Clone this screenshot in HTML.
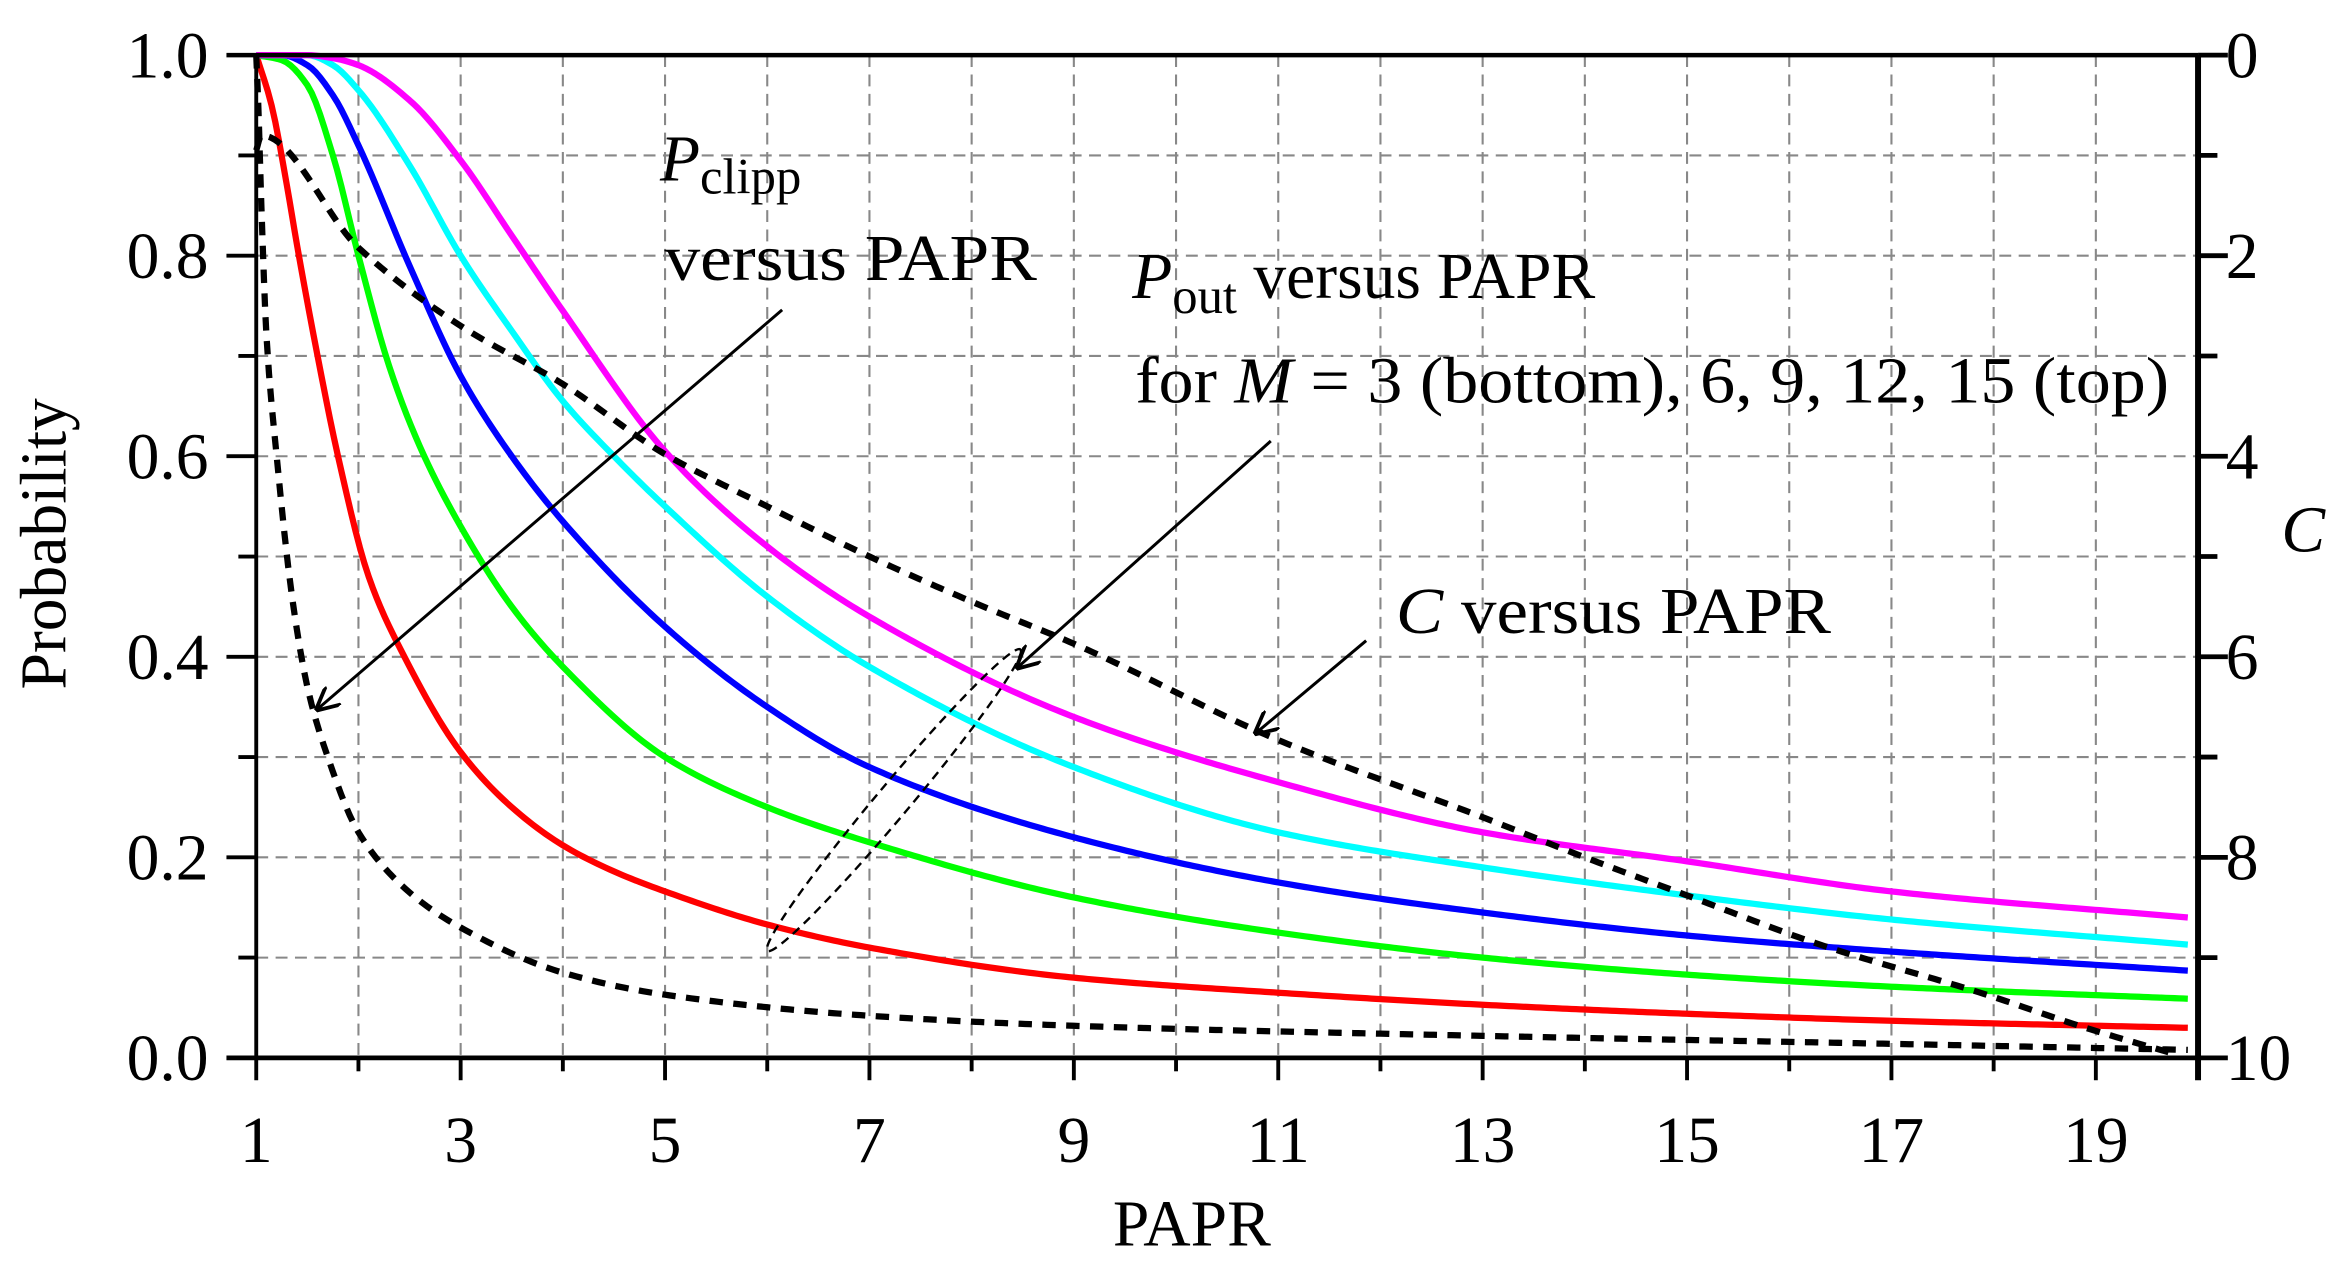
<!DOCTYPE html>
<html><head><meta charset="utf-8"><style>
html,body{margin:0;padding:0;background:#fff;}
svg{display:block;}
text{font-family:"Liberation Serif",serif;fill:#000;}
</style></head><body>
<svg id="chart" width="2336" height="1265" viewBox="0 0 1568 849" preserveAspectRatio="none" xmlns="http://www.w3.org/2000/svg">
<defs><marker id="ah" viewBox="0 0 10 10" refX="9" refY="5" markerWidth="16" markerHeight="16" markerUnits="userSpaceOnUse" orient="auto"><path d="M0,0 L10,5 L0,10" fill="none" stroke="#000" stroke-width="1.6"/></marker></defs>
<g id="grid"></g>
<g id="curves"></g>
<g id="axes"></g>
<g>
<text x="443" y="121" font-size="44"><tspan font-style="italic">P</tspan><tspan font-size="34" dy="9">clipp</tspan></text>
<text x="446" y="188" font-size="44" textLength="250" lengthAdjust="spacingAndGlyphs">versus PAPR</text>
<line x1="525" y1="208" x2="213" y2="476" stroke="#000" stroke-width="2" marker-end="url(#ah)"/>
<text x="760" y="200" font-size="44"><tspan font-style="italic">P</tspan><tspan font-size="34" dy="10">out</tspan><tspan dy="-10"> versus PAPR</tspan></text>
<text x="762" y="270" font-size="44" textLength="694" lengthAdjust="spacingAndGlyphs">for <tspan font-style="italic">M</tspan> = 3 (bottom), 6, 9, 12, 15 (top)</text>
<line x1="853" y1="296" x2="683" y2="448" stroke="#000" stroke-width="2" marker-end="url(#ah)"/>
<ellipse cx="600" cy="537" rx="132" ry="11" transform="rotate(-50 600 537)" fill="none" stroke="#000" stroke-width="1.6" stroke-dasharray="6,4"/>
<text x="937" y="425" font-size="44" textLength="292" lengthAdjust="spacingAndGlyphs"><tspan font-style="italic">C</tspan> versus PAPR</text>
<line x1="917" y1="430" x2="843" y2="492" stroke="#000" stroke-width="2" marker-end="url(#ah)"/>
<text x="800" y="836" font-size="44" text-anchor="middle">PAPR</text>
<text x="0" y="0" font-size="44" text-anchor="middle" transform="translate(44 365) rotate(-90)">Probability</text>
<text x="1546" y="370" font-size="44" font-style="italic" text-anchor="middle">C</text>
</g>
</svg>
<script>
const xTicks=[1,3,5,7,9,11,13,15,17,19];
const yTicks=["0.0","0.2","0.4","0.6","0.8","1.0"];
const cTicks=["0","2","4","6","8","10"];
const tailX=[9,11,13,15,17,19.9];
const m3X=[1,1.15,1.3,1.4,1.6,1.8,2.1,2.45,3,3.5,4,4.5,5,6,7].concat(tailX);
const m3Y=[1,0.95,0.87,0.81,0.70,0.60,0.48,0.40,0.305,0.25,0.212,0.186,0.166,0.133,0.11,0.08,0.065,0.053,0.044,0.037,0.03];
const m6X=[1,1.25,1.5,1.75,2,2.3,2.6,3,3.5,4,5,6,7].concat(tailX);
const m6Y=[1,0.995,0.97,0.90,0.80,0.69,0.61,0.53,0.45,0.39,0.30,0.25,0.215,0.16,0.125,0.100,0.083,0.071,0.059];
const m9X=[1,1.25,1.5,1.75,2,2.5,3,3.5,4,5,6,7].concat(tailX);
const m9Y=[1,1,0.99,0.96,0.91,0.79,0.68,0.60,0.535,0.43,0.35,0.29,0.22,0.175,0.145,0.122,0.106,0.087];
const m12X=[1,1.5,1.75,2,2.5,3,3.5,4,4.5,5,6,7].concat(tailX);
const m12Y=[1,1,0.99,0.965,0.89,0.80,0.725,0.655,0.60,0.55,0.46,0.39,0.29,0.225,0.19,0.162,0.138,0.113];
const m15X=[1,1.5,1.75,2,2.5,3,3.5,4,5,6,7].concat(tailX);
const m15Y=[1,1,0.997,0.99,0.955,0.895,0.82,0.745,0.605,0.51,0.44,0.34,0.275,0.225,0.196,0.166,0.14];
const clipX=[1,1.02,1.05,1.1,1.2,1.35,1.5,1.7,2,2.5,3,4,5,7,9,13,17,19.9];
const clipY=[1,0.95,0.85,0.72,0.6,0.46,0.37,0.3,0.225,0.165,0.13,0.085,0.063,0.042,0.032,0.022,0.014,0.008];
const cX=[1,1.05,2,3,4,5,6,7,8,9,11,13,14,15,16.3,17.9,18.9,19.8];
const cY=[0.95,0.8,1.92,2.7,3.28,3.98,4.5,5.0,5.45,5.87,6.83,7.6,8.0,8.38,8.87,9.36,9.7,9.97];

const X0=172,XU=68.6,Y0=710,YT=37;
const sx=v=>X0+(v-1)*XU;
const sy=v=>Y0-v*(Y0-YT);
const sc=v=>YT+v*(Y0-YT)/10;
const NS="http://www.w3.org/2000/svg";
function mk(tag,attrs,parent){const e=document.createElementNS(NS,tag);for(const k in attrs)e.setAttribute(k,attrs[k]);parent.appendChild(e);return e;}
const grid=document.getElementById('grid'),axes=document.getElementById('axes'),curves=document.getElementById('curves');
const R=sx(20);
for(let i=2;i<=19;i++){const l=mk('line',{x1:sx(i),x2:sx(i),y1:YT,y2:Y0,stroke:'#888','stroke-width':1.4,'stroke-dasharray':'8,5'},grid);

}
for(let i=1;i<=9;i++){const l=mk('line',{x1:X0,x2:R,y1:sy(i/10),y2:sy(i/10),stroke:'#888','stroke-width':1.4,'stroke-dasharray':'8,5'},grid);

}
function path(xs,ys,fy){const n=xs.length,d=[],m=new Array(n);
for(let i=0;i<n-1;i++)d.push((ys[i+1]-ys[i])/(xs[i+1]-xs[i]));
m[0]=d[0];m[n-1]=d[n-2];
for(let i=1;i<n-1;i++){if(d[i-1]*d[i]<=0)m[i]=0;else{const h0=xs[i]-xs[i-1],h1=xs[i+1]-xs[i];const w1=2*h1+h0,w2=h1+2*h0;m[i]=(w1+w2)/(w1/d[i-1]+w2/d[i]);}}
let out='M'+sx(xs[0])+','+fy(ys[0]);
for(let i=0;i<n-1;i++){const h=xs[i+1]-xs[i];const N=Math.max(4,Math.ceil(h*XU/3));
for(let k=1;k<=N;k++){const t=k/N,t2=t*t,t3=t2*t;
const y=(2*t3-3*t2+1)*ys[i]+(t3-2*t2+t)*h*m[i]+(-2*t3+3*t2)*ys[i+1]+(t3-t2)*h*m[i+1];
out+=' L'+sx(xs[i]+t*h).toFixed(2)+','+fy(y).toFixed(2);}}
return out;}
const series=[[m3X,m3Y,'#ff0000','pout-m3'],[m6X,m6Y,'#00ff00','pout-m6'],[m9X,m9Y,'#0000ff','pout-m9'],[m12X,m12Y,'#00ffff','pout-m12'],[m15X,m15Y,'#ff00ff','pout-m15']];
series.forEach(s=>{const e=mk('path',{d:path(s[0],s[1],sy),fill:'none',stroke:s[2],'stroke-width':4.2,'stroke-linejoin':'round'},curves);

});
const e1=mk('path',{d:path(clipX,clipY,sy),fill:'none',stroke:'#000','stroke-width':4.2,'stroke-dasharray':'9,7'},curves);


const e2=mk('path',{d:path(cX,cY,sc),fill:'none',stroke:'#000','stroke-width':4.2,'stroke-dasharray':'9,7'},curves);


mk('line',{x1:152,x2:R,y1:YT,y2:YT,stroke:'#000','stroke-width':3},axes);
mk('line',{x1:152,x2:R+20,y1:Y0,y2:Y0,stroke:'#000','stroke-width':3.2},axes);
mk('line',{x1:X0,x2:X0,y1:YT,y2:Y0+15,stroke:'#000','stroke-width':2.6},axes);
mk('line',{x1:R,x2:R,y1:YT,y2:Y0+15,stroke:'#000','stroke-width':4},axes);
for(let i=2;i<=19;i++){mk('line',{x1:sx(i),x2:sx(i),y1:Y0,y2:Y0+(i%2?15:9),stroke:'#000','stroke-width':2.6},axes);}
for(let i=1;i<=9;i++){mk('line',{x1:i%2?160:152,x2:X0,y1:sy(i/10),y2:sy(i/10),stroke:'#000','stroke-width':2.6},axes);
mk('line',{x1:R,x2:R+(i%2?13:20),y1:sc(i),y2:sc(i),stroke:'#000','stroke-width':3.2},axes);}
mk('line',{x1:R,x2:R+20,y1:YT,y2:YT,stroke:'#000','stroke-width':3.2},axes);
xTicks.forEach(v=>{const t=mk('text',{x:sx(v),y:780,'font-size':44,'text-anchor':'middle'},axes);t.textContent=v;

});
yTicks.forEach((v,i)=>{const t=mk('text',{x:140,y:sy(i*0.2)+15,'font-size':44,'text-anchor':'end'},axes);t.textContent=v;

});
cTicks.forEach((v,i)=>{const t=mk('text',{x:1494,y:sc(i*2)+15,'font-size':44},axes);t.textContent=v;

});
</script>
</body></html>
